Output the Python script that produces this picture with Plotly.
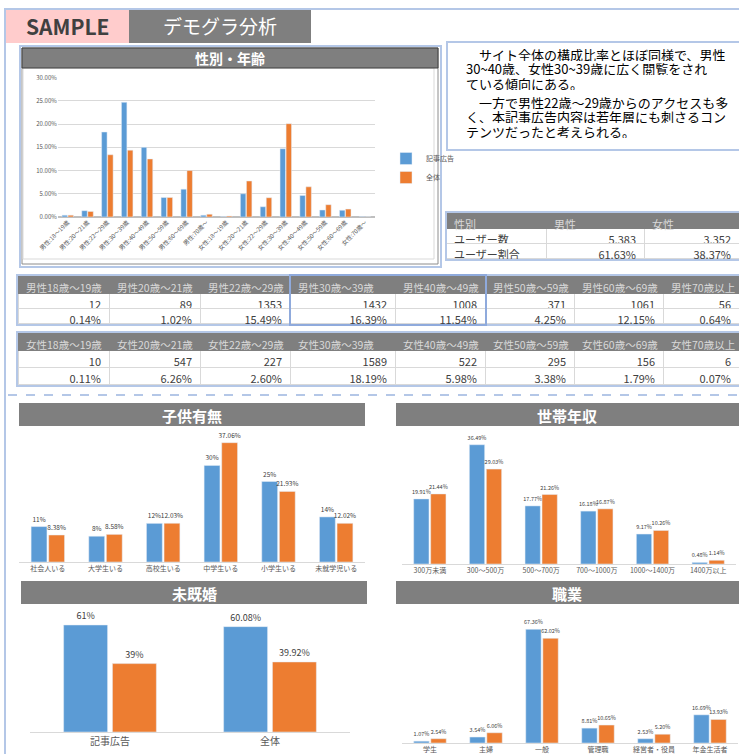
import plotly.graph_objects as go

W, H = 739, 754
def X(p): return p / W
def Y(p): return 1 - p / H
def XC(p): return min(max(p / W, 0), 1)
def YC(p): return min(max(1 - p / H, 0), 1)

BLUE = "#5b9bd5"; ORANGE = "#ed7d31"; GRAY = "#7f7f7f"; LB = "#b4c7e7"
FONT = "Noto Sans CJK JP"
TXT = "#404040"

# ---------------- data ----------------
age_cats = ["男性:18～19歳", "男性:20～21歳", "男性:22～29歳", "男性:30～39歳", "男性:40～49歳",
            "男性:50～59歳", "男性:60～69歳", "男性:70歳～", "女性:18～19歳", "女性:20～21歳",
            "女性:22～29歳", "女性:30～39歳", "女性:40～49歳", "女性:50～59歳", "女性:60～69歳", "女性:70歳～"]
age_ad = [0.4, 1.36, 18.3, 24.7, 15.0, 4.2, 6.0, 0.4, 0.05, 5.0, 2.2, 14.7, 4.65, 1.5, 1.45, 0.05]
age_all = [0.4, 1.2, 13.4, 14.4, 12.5, 4.2, 10.0, 0.6, 0.2, 7.75, 4.15, 20.1, 6.5, 2.65, 1.7, 0.02]

child_cats = ["社会人いる", "大学生いる", "高校生いる", "中学生いる", "小学生いる", "未就学児いる"]
child_ad = [11, 8, 12, 30, 25, 14]
child_all = [8.38, 8.58, 12.03, 37.06, 21.93, 12.02]

income_cats = ["300万未満", "300～500万", "500～700万", "700～1000万", "1000～1400万", "1400万以上"]
income_ad = [19.91, 36.49, 17.77, 16.18, 9.17, 0.48]
income_all = [21.44, 29.03, 21.26, 16.87, 10.26, 1.14]

marital_cats = ["記事広告", "全体"]
marital_single = [61, 60.08]
marital_married = [39, 39.92]

job_cats = ["学生", "主婦", "一般", "管理職", "経営者・役員", "年金生活者"]
job_ad = [1.07, 3.54, 67.36, 8.81, 2.53, 16.69]
job_all = [2.54, 6.06, 62.02, 10.65, 5.20, 13.93]

gender_header = ["性別", "男性", "女性"]
gender_rows = ["ユーザー数", "ユーザー割合"]
gender_male = ["5,383", "61.63%"]
gender_female = ["3,352", "38.37%"]

male_headers = ["男性18歳～19歳", "男性20歳～21歳", "男性22歳～29歳", "男性30歳～39歳",
                "男性40歳～49歳", "男性50歳～59歳", "男性60歳～69歳", "男性70歳以上"]
male_counts = [12, 89, 1353, 1432, 1008, 371, 1061, 56]
male_pcts = ["0.14%", "1.02%", "15.49%", "16.39%", "11.54%", "4.25%", "12.15%", "0.64%"]

female_headers = ["女性18歳～19歳", "女性20歳～21歳", "女性22歳～29歳", "女性30歳～39歳",
                  "女性40歳～49歳", "女性50歳～59歳", "女性60歳～69歳", "女性70歳以上"]
female_counts = [10, 547, 227, 1589, 522, 295, 156, 6]
female_pcts = ["0.11%", "6.26%", "2.60%", "18.19%", "5.98%", "3.38%", "1.79%", "0.07%"]

comment_lines = ["　サイト全体の構成比率とほぼ同様で、男性",
                 "30~40歳、女性30~39歳に広く閲覧をされ",
                 "ている傾向にある。",
                 "　一方で男性22歳～29歳からのアクセスも多",
                 "く、本記事広告内容は若年層にも刺さるコン",
                 "テンツだったと考えられる。"]

def fmt(v):
    return f"{v}%" if isinstance(v, int) else f"{v:.2f}%"

fig = go.Figure()

# ---------------- chart 1 ----------------
fig.add_trace(go.Bar(x=age_cats, y=age_ad, name="記事広告", marker_color=BLUE, xaxis="x", yaxis="y"))
fig.add_trace(go.Bar(x=age_cats, y=age_all, name="全体", marker_color=ORANGE, xaxis="x", yaxis="y"))

def pair(cats, a, b, ax, size):
    for vals, col in ((a, BLUE), (b, ORANGE)):
        fig.add_trace(go.Bar(x=cats, y=vals, marker_color=col, showlegend=False,
                             text=[fmt(v) for v in vals], textposition="outside",
                             textfont=dict(size=size, color=TXT), constraintext="none",
                             cliponaxis=False, xaxis="x" + ax, yaxis="y" + ax))

pair(child_cats, child_ad, child_all, "2", 6.5)
pair(income_cats, income_ad, income_all, "3", 5.5)
pair(marital_cats, marital_single, marital_married, "4", 9)
pair(job_cats, job_ad, job_all, "5", 5.5)

# ---------------- tables ----------------
def table(header, cols, x0, x1, y0, y1, widths, aligns, hsize, csize, hh, ch):
    fig.add_trace(go.Table(
        domain=dict(x=[XC(x0), XC(x1)], y=[YC(y1), YC(y0)]),
        columnwidth=widths,
        header=dict(values=header, fill_color=GRAY, line_color=GRAY, align="left",
                    font=dict(family=FONT, size=hsize, color="#d9d9d9"), height=hh),
        cells=dict(values=cols, fill_color="white", line_color="#d9d9d9", align=aligns,
                   font=dict(family=FONT, size=csize, color=TXT), height=ch)))

table(gender_header, [gender_rows, gender_male, gender_female], 446, 739, 213, 266,
      [100, 98, 95], ["left", "right", "right"], 11, 11, 15, 15)
table(male_headers, [[c, p] for c, p in zip(male_counts, male_pcts)], 18, 739, 276, 332,
      [91, 91, 90, 105, 90, 89, 89, 76], "right", 10.5, 11, 17, 15)
table(female_headers, [[c, p] for c, p in zip(female_counts, female_pcts)], 18, 739, 333, 392,
      [91, 91, 90, 105, 90, 89, 89, 76], "right", 10.5, 11, 17, 17)

# ---------------- shapes ----------------
shapes = []
def rect(x0, y0, x1, y1, fill=None, line=None, lw=1, layer="below", dash=None):
    shapes.append(dict(type="rect", xref="paper", yref="paper", x0=X(x0), x1=X(x1), y0=Y(y1), y1=Y(y0),
                       fillcolor=fill if fill else "rgba(0,0,0,0)",
                       line=dict(color=line if line else "rgba(0,0,0,0)", width=lw if line else 0,
                                 dash=dash), layer=layer))
def hline(x0, x1, y, color, lw, dash=None):
    shapes.append(dict(type="line", xref="paper", yref="paper", x0=X(x0), x1=X(x1), y0=Y(y), y1=Y(y),
                       line=dict(color=color, width=lw, dash=dash)))
def vline(x, y0, y1, color, lw):
    shapes.append(dict(type="line", xref="paper", yref="paper", x0=X(x), x1=X(x), y0=Y(y0), y1=Y(y1),
                       line=dict(color=color, width=lw)))

# page frame
hline(4, 739, 9, LB, 2)
vline(5, 9, 754, LB, 2)
hline(8, 739, 395, LB, 2, "dash")
# header tags
rect(6, 10, 129, 43, fill="#ffcccc")
rect(129, 10, 311, 43, fill=GRAY)
# chart 1 frames
rect(20, 46, 441, 267, fill="white", line=LB, lw=2)
rect(22, 48, 438, 264, fill="white", line="#8c8c8c", lw=1)
rect(23, 68, 434, 259, fill="white", line="#d9d9d9", lw=1)
rect(22, 48, 438, 68, fill=GRAY, line="#404040", lw=1)
# comment box
rect(447, 42, 745, 150, fill="white", line=LB, lw=2)
# table frames
rect(446, 212, 742, 260, line=LB, lw=2, layer="above")
rect(17, 275, 742, 325, line=LB, lw=2, layer="above")
rect(17, 332, 742, 386, line=LB, lw=2, layer="above")
rect(290, 275, 486, 325, line="#8faadc", lw=2, layer="above")
# lower chart title bars
rect(19, 403, 365, 426, fill=GRAY)
rect(396, 403, 739, 426, fill=GRAY)
rect(21, 581, 367, 604, fill=GRAY)
rect(396, 581, 739, 604, fill=GRAY)

# ---------------- annotations ----------------
ann = []
def text(x, y, s, size, color, bold=False, xanchor="center", family=FONT, height=None):
    d = dict(x=X(x), y=Y(y), xref="paper", yref="paper", text=f"<b>{s}</b>" if bold else s,
             showarrow=False, xanchor=xanchor, yanchor="middle",
             font=dict(size=size, color=color, family=family))
    if height:
        d["height"] = height
    ann.append(d)

text(68, 26, "SAMPLE", 21, TXT, bold=True)
text(220, 26, "デモグラ分析", 19, "white")
text(230, 58, "性別・年齢", 14, "white", bold=True)
text(192, 415, "子供有無", 15, "white", bold=True)
text(567, 415, "世帯年収", 15, "white", bold=True)
text(194, 593, "未既婚", 15, "white", bold=True)
text(567, 593, "職業", 15, "white", bold=True)
for i, (ly, line) in enumerate(zip([54, 68, 83, 102, 116, 131], comment_lines)):
    text(464, ly, line, 13, "black", xanchor="left", height=14)

lower_x = dict(showline=True, linecolor="#d9d9d9", linewidth=1, tickfont=dict(size=7, color="#595959"),
               ticks="", showgrid=False, automargin=False)
hidden_y = dict(visible=False, showgrid=False, zeroline=False, automargin=False)

fig.update_layout(
    width=W, height=H, margin=dict(l=0, r=0, t=0, b=0, autoexpand=False),
    paper_bgcolor="white", plot_bgcolor="white",
    font=dict(family=FONT, color=TXT),
    barmode="group", bargap=0.39, bargroupgap=0.1,
    shapes=shapes, annotations=ann,
    legend=dict(x=X(386), y=Y(144), xanchor="left", yanchor="top", font=dict(size=7, color="#595959"),
                bgcolor="rgba(0,0,0,0)", itemwidth=30, tracegroupgap=0),
    xaxis=dict(domain=[X(57.8), X(375)], anchor="y", tickangle=-45, ticks="", automargin=False,
               tickfont=dict(size=6, color="#595959"), showline=False, showgrid=False),
    yaxis=dict(domain=[Y(217), Y(77.7)], anchor="x", range=[0, 30], dtick=5, tickformat=".2f",
               ticksuffix="%", gridcolor="#d9d9d9", zeroline=True, zerolinecolor="#bfbfbf",
               automargin=False, tickfont=dict(size=6, color="#595959")),
    xaxis2=dict(domain=[X(19), X(365)], anchor="y2", **lower_x),
    yaxis2=dict(domain=[Y(562), Y(430)], anchor="x2", range=[0, 41], **hidden_y),
    xaxis3=dict(domain=[X(402), X(736)], anchor="y3", **lower_x),
    yaxis3=dict(domain=[Y(564), Y(430)], anchor="x3", range=[0, 41], **hidden_y),
    xaxis4=dict(domain=[X(30), X(350)], anchor="y4", **{**lower_x, "tickfont": dict(size=10, color="#595959")}),
    yaxis4=dict(domain=[Y(732), Y(608)], anchor="x4", range=[0, 70.7], **hidden_y),
    xaxis5=dict(domain=[X(402), X(738)], anchor="y5", **lower_x),
    yaxis5=dict(domain=[Y(743), Y(608)], anchor="x5", range=[0, 80], **hidden_y),
)

fig.write_html("out.html", config={"displayModeBar": False},
               post_script="document.body.style.margin='0px';document.body.style.overflow='hidden';")
